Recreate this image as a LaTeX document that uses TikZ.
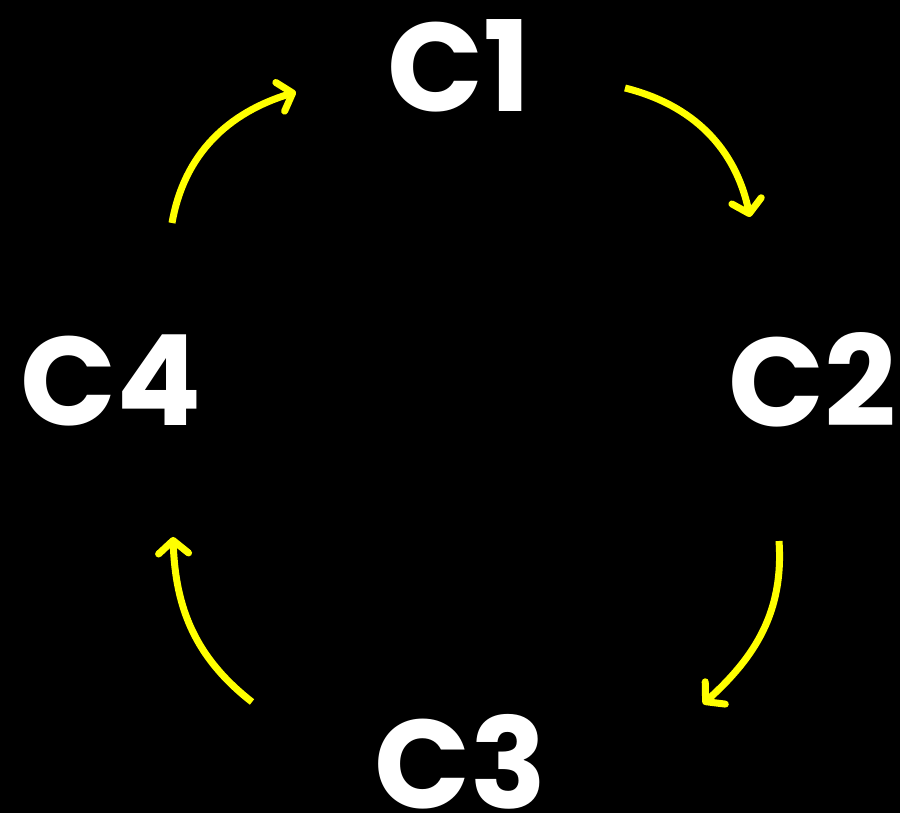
\documentclass[tikz,border=0pt]{standalone}
\usepackage{fontspec}
\setmainfont{Poppins}
\usetikzlibrary{arrows.meta}
\definecolor{arrowyellow}{RGB}{255,255,0}

\begin{document}
\begin{tikzpicture}[x=1pt, y=1pt,
    lbl/.style = {text=white, inner sep=0pt, font=\fontsize{126}{126}\selectfont\bfseries},
    cyc/.style = {draw=arrowyellow, line width=7pt, -{Straight Barb[round, length=13pt, width=30pt]}}]
        \fill[black] (0,0) rectangle (900,813);
        \useasboundingbox (0,0) rectangle (900,813);
        \node[lbl] (c1) at (459,747) {C1};
        \node[lbl] (c2) at (812,433) {C2};
        \node[lbl] (c3) at (461,51) {C3};
        \node[lbl] (c4) at (111,433) {C4};
        % ends of the arrows
        \coordinate (a1) at (172,590);
        \coordinate (b1) at (296,721);
        \coordinate (a2) at (625,725);
        \coordinate (b2) at (750,596);
        \coordinate (a3) at (779,272);
        \coordinate (b3) at (703,109);
        \coordinate (a4) at (252,111);
        \coordinate (b4) at (173,276);
        \draw[cyc] (a1) to[out=80, in=197] (b1);
        \draw[cyc] (a2) to[out=-14, in=102] (b2);
        \draw[cyc] (a3) to[out=-86, in=42] (b3);
        \draw[cyc] (a4) to[out=142, in=-88] (b4);
    \end{tikzpicture}
\end{document}
